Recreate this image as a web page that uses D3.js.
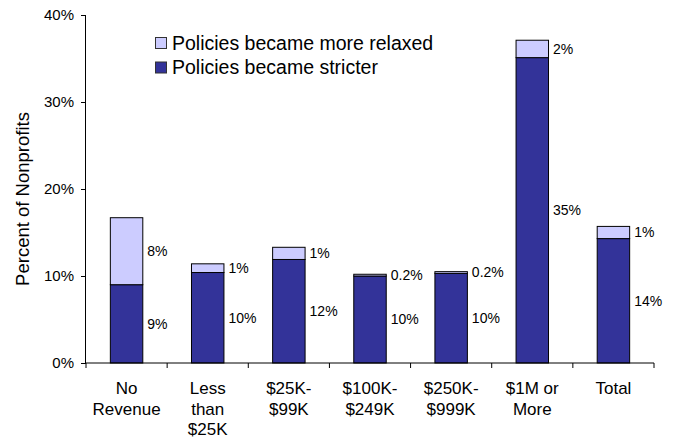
<!DOCTYPE html>
<html>
<head>
<meta charset="utf-8">
<script src="https://cdn.jsdelivr.net/npm/d3@7"></script>
<style>
  html, body { margin: 0; padding: 0; background: #fff; }
  svg { display: block; font-family: "Liberation Sans", Arial, sans-serif; }
</style>
</head>
<body>
<svg id="chart" width="678" height="439"></svg>
<script>
// Revenue-size groups (category labels split into lines)
const categories = ["No Revenue", "Less than $25K", "$25K-$99K", "$100K-$249K", "$250K-$999K", "$1M or More", "Total"];
const categoryLines = [["No", "Revenue"], ["Less", "than", "$25K"], ["$25K-", "$99K"], ["$100K-", "$249K"], ["$250K-", "$999K"], ["$1M or", "More"], ["Total"]];

// Percent of nonprofits whose policies changed
const stricter = [9.0, 10.4, 11.9, 10.0, 10.3, 35.1, 14.3];
const relaxed  = [7.7, 1.0, 1.4, 0.2, 0.2, 2.0, 1.4];

const seriesKeys = ["stricter", "relaxed"];
const seriesNames = { relaxed: "Policies became more relaxed", stricter: "Policies became stricter" };
const seriesColors = { relaxed: "#CCCCFF", stricter: "#333399" };
const yTicks = [0, 10, 20, 30, 40];

const rows = categories.map((c, i) => ({ category: c, stricter: stricter[i], relaxed: relaxed[i] }));

const svg = d3.select("#chart");
const margin = { left: 86, right: 24, top: 15, bottom: 76 };
const W = 678, H = 439;

const x = d3.scaleBand()
  .domain(categories)
  .range([margin.left, W - margin.right])
  .paddingInner(0.6)
  .paddingOuter(0.3);

const y = d3.scaleLinear()
  .domain([0, 40])
  .range([H - margin.bottom, margin.top]);

const stacked = d3.stack().keys(seriesKeys)(rows);

// Bars
const layers = svg.append("g").selectAll("g")
  .data(stacked)
  .join("g")
  .attr("fill", d => seriesColors[d.key]);

layers.selectAll("rect")
  .data(d => d)
  .join("rect")
  .attr("x", d => x(d.data.category))
  .attr("width", x.bandwidth())
  .attr("y", d => y(d[1]))
  .attr("height", d => y(d[0]) - y(d[1]))
  .attr("stroke", "#000")
  .attr("stroke-width", 1);

// Value labels beside each segment
const fmt = v => (v < 1 ? d3.format(".1f")(v) : d3.format(".0f")(v)) + "%";
layers.selectAll("text")
  .data(d => d.map(s => ({ s, key: d.key })))
  .join("text")
  .attr("x", d => x(d.s.data.category) + x.bandwidth() + 4.5)
  .attr("y", d => (y(d.s[0]) + y(d.s[1])) / 2)
  .attr("dy", "0.35em")
  .attr("fill", "#000")
  .attr("font-size", 14)
  .text(d => fmt(d.s.data[d.key]));

// Y axis
const yAxis = d3.axisLeft(y)
  .tickValues(yTicks)
  .tickFormat(d => d + "%")
  .tickSize(5)
  .tickPadding(7);
const gy = svg.append("g")
  .attr("transform", `translate(${margin.left},0)`)
  .call(yAxis);
gy.select(".domain").attr("stroke", "#000").attr("d", `M-0.5,${y(40)}V${y(0)}`);
gy.selectAll(".tick line").attr("stroke", "#000");
gy.selectAll(".tick text").attr("font-size", 15).attr("fill", "#000").attr("font-family", "Liberation Sans, Arial, sans-serif");

// X axis line with tick marks at category boundaries
const step = x.step();
const boundaries = d3.range(categories.length + 1).map(i => x.range()[0] + i * step);
const gx = svg.append("g");
gx.append("line")
  .attr("x1", x.range()[0] - 0.5).attr("x2", x.range()[1])
  .attr("y1", y(0)).attr("y2", y(0))
  .attr("stroke", "#000");
gx.selectAll("line.tick")
  .data(boundaries)
  .join("line")
  .attr("class", "tick")
  .attr("x1", d => d).attr("x2", d => d)
  .attr("y1", y(0)).attr("y2", y(0) + 5)
  .attr("stroke", "#000");

// Category labels
gx.selectAll("text.cat")
  .data(categories)
  .join("text")
  .attr("class", "cat")
  .attr("text-anchor", "middle")
  .attr("font-size", 17)
  .attr("fill", "#000")
  .attr("x", d => x(d) + x.bandwidth() / 2)
  .attr("y", y(0) + 31)
  .each(function (d, i) {
    d3.select(this).selectAll("tspan")
      .data(categoryLines[i])
      .join("tspan")
      .attr("x", x(d) + x.bandwidth() / 2)
      .attr("dy", (t, j) => j === 0 ? 0 : 20.7)
      .text(t => t);
  });

// Y axis title
svg.append("text")
  .attr("transform", `translate(29,${(y(0) + y(40)) / 2 + 10}) rotate(-90)`)
  .attr("text-anchor", "middle")
  .attr("font-size", 18.5)
  .attr("fill", "#000")
  .text("Percent of Nonprofits");

// Legend
const legendOrder = ["relaxed", "stricter"];
const legend = svg.append("g").attr("transform", "translate(155,37)");
legendOrder.forEach((k, i) => {
  const g = legend.append("g").attr("transform", `translate(0,${i * 24.5})`);
  g.append("rect")
    .attr("x", 0.5).attr("y", 0.5)
    .attr("width", 11).attr("height", 11)
    .attr("fill", seriesColors[k])
    .attr("stroke", "#333");
  g.append("text")
    .attr("x", 17)
    .attr("y", 12.5)
    .attr("font-size", 19.5)
    .attr("fill", "#000")
    .text(seriesNames[k]);
});
</script>
</body>
</html>
